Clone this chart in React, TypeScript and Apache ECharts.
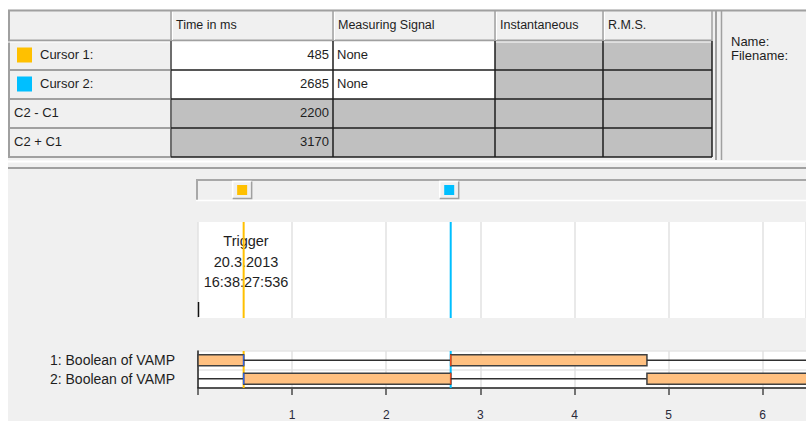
import React, { useEffect, useRef } from 'react';
import * as echarts from 'echarts';

// ---------- data ----------
const headerLabels = ['', 'Time in ms', 'Measuring Signal', 'Instantaneous', 'R.M.S.'];
const rowLabels = ['Cursor 1:', 'Cursor 2:', 'C2 - C1', 'C2 + C1'];
const timeValues = [485, 2685, 2200, 3170];
const measuringSignals = ['None', 'None', '', ''];
const infoLabels = ['Name:', 'Filename:'];
const cursorTimes = [485, 2685];
const cursorColors = ['#FFC000', '#00BFFF'];
const edgeColors = ['#2F62E8', '#E8481C'];
const triggerLines = ['Trigger', '20.3.2013', '16:38:27:536'];
const signalNames = ['1: Boolean of VAMP', '2: Boolean of VAMP'];
// [start ms, end ms, state]
const signal1Segments = [[0, 485, 1], [485, 2685, 0], [2685, 4770, 1], [4770, 6500, 0]];
const signal2Segments = [[0, 485, 0], [485, 2685, 1], [2685, 4770, 0], [4770, 6500, 1]];
const axisTickSeconds = [0, 1, 2, 3, 4, 5, 6];
const timeMin = 0;
const timeMax = 6460;

const FONT = '"Liberation Sans", Arial, sans-serif';
const TXT = '#1E1E1E';

function buildTable(): any[] {
  const colX = [8, 171, 333, 495, 603, 712];
  const rowY = [10, 41, 70, 99, 128, 157];
  const els: any[] = [];
  for (let r = 0; r < 5; r++) {
    for (let c = 0; c < 5; c++) {
      let fill = '#C0C0C0';
      if (r === 0 || c === 0) fill = '#F0F0F0';
      else if ((c === 1 || c === 2) && (r === 1 || r === 2)) fill = '#FFFFFF';
      els.push({
        type: 'rect', z: 1,
        shape: { x: colX[c], y: rowY[r], width: colX[c + 1] - colX[c], height: rowY[r + 1] - rowY[r] },
        style: { fill },
      });
    }
  }
  const line = (x1: number, y1: number, x2: number, y2: number, stroke: string, w: number) =>
    els.push({ type: 'line', z: 2, shape: { x1, y1, x2, y2 }, style: { stroke, lineWidth: w } });
  const G = '#A0A0A0';
  const B = '#1E1E1E';
  line(8, 10.5, 806, 10.5, G, 2);
  line(9, 10, 9, 157, G, 2);
  line(8, 40.5, 712, 40.5, G, 2);
  line(8, 42, 712, 42, '#FFFFFF', 1);
  for (let c = 1; c < 5; c++) {
    line(colX[c], 10, colX[c], 41, G, 1.5);
    line(colX[c] + 1.5, 12, colX[c] + 1.5, 40, '#FFFFFF', 1);
  }
  line(712, 10, 712, 41, G, 1.5);
  for (let r = 2; r < 6; r++) line(8, rowY[r], 171, rowY[r], G, 2);
  line(171, 41, 171, 157, '#6E6E6E', 2);
  for (let r = 2; r < 6; r++) line(171, rowY[r], 712, rowY[r], B, 1.5);
  for (let c = 2; c < 6; c++) line(colX[c], 41, colX[c], 157, B, 1.5);
  line(716, 10, 716, 160, G, 2);
  line(721.5, 10, 721.5, 160, G, 1.5);
  line(8, 161.5, 806, 161.5, '#FFFFFF', 2);
  line(8, 168, 806, 168, G, 2);

  const text = (x: number, y: number, t: string, align: string = 'left', size = 12.5) =>
    els.push({
      type: 'text', z: 3, x, y,
      style: { text: t, fill: TXT, font: `${size}px ${FONT}`, textAlign: align, textVerticalAlign: 'middle' },
    });
  for (let c = 1; c < 5; c++) text(colX[c] + 5, 25, headerLabels[c]);
  for (let i = 0; i < rowLabels.length; i++) {
    const cy = (rowY[i + 1] + rowY[i + 2]) / 2 - 1.5;
    if (i < cursorColors.length) {
      els.push({
        type: 'rect', z: 3,
        shape: { x: 17, y: rowY[i + 1] + 6.5, width: 15, height: 15 },
        style: { fill: cursorColors[i] },
      });
      text(40, cy, rowLabels[i], 'left', 13);
    } else {
      text(14, cy, rowLabels[i], 'left', 13);
    }
    text(colX[2] - 4, cy, String(timeValues[i]), 'right', 13);
    if (measuringSignals[i]) text(colX[2] + 4, cy, measuringSignals[i], 'left', 13);
  }
  infoLabels.forEach((t, i) => text(731, 41 + i * 14, t, 'left', 13));
  return els;
}

function buildOther(): any[] {
  const els: any[] = [];
  els.push({ type: 'rect', z: 1, shape: { x: 0, y: 0, width: 806, height: 9.5 }, style: { fill: '#FFFFFF' } });
  els.push({ type: 'rect', z: 1, shape: { x: 0, y: 0, width: 8, height: 421 }, style: { fill: '#FFFFFF' } });
  els.push({ type: 'line', z: 2, shape: { x1: 197, y1: 180, x2: 806, y2: 180 }, style: { stroke: '#A8A8A8', lineWidth: 2 } });
  els.push({ type: 'line', z: 2, shape: { x1: 197, y1: 179, x2: 197, y2: 200 }, style: { stroke: '#A8A8A8', lineWidth: 2 } });
  els.push({ type: 'line', z: 2, shape: { x1: 196, y1: 200.5, x2: 806, y2: 200.5 }, style: { stroke: '#FFFFFF', lineWidth: 1.5 } });
  triggerLines.forEach((t, i) => {
    els.push({
      type: 'text', z: 3, x: 246, y: 241 + i * 20.5,
      style: { text: t, fill: TXT, font: `14.5px ${FONT}`, textAlign: 'center', textVerticalAlign: 'middle' },
    });
  });
  els.push({ type: 'line', z: 3, shape: { x1: 198.5, y1: 302, x2: 198.5, y2: 317 }, style: { stroke: '#111', lineWidth: 1.5 } });
  return els;
}

const tickValues = axisTickSeconds.map((s) => s * 1000);

function xAxisBase(gridIndex: number, visible: boolean): any {
  return {
    type: 'value', gridIndex, min: timeMin, max: timeMax, interval: 1000,
    axisLine: visible ? { show: true, onZero: false, lineStyle: { color: '#222', width: 1.5 } } : { show: false },
    axisTick: visible
      ? { show: true, length: 7, customValues: tickValues, lineStyle: { color: '#4A4A4A', width: 1.5 } }
      : { show: false },
    axisLabel: visible
      ? {
          show: true, margin: 21, fontSize: 12, color: '#2A2A3A', fontFamily: FONT,
          customValues: tickValues.filter((v) => v > 0),
          formatter: (v: number) => String(v / 1000),
        }
      : { show: false },
    splitLine: { show: gridIndex !== 2, lineStyle: { color: '#E2E2E2', width: 1.5 } },
  };
}

export default function App() {
  const ref = useRef<HTMLDivElement>(null);
  useEffect(() => {
    if (!ref.current) return;
    const chart = echarts.init(ref.current, undefined, { renderer: 'svg' });

    const signalData: number[][] = [];
    signal1Segments.forEach((s) => signalData.push([s[0], s[1], s[2], 0]));
    signal2Segments.forEach((s) => signalData.push([s[0], s[1], s[2], 1]));
    const cursorData = cursorTimes.map((t, i) => [t, i]);

    const cursorLineRender = (params: any, api: any) => {
      const x = api.coord([api.value(0), 0])[0];
      const cs = params.coordSys;
      return {
        type: 'line',
        shape: { x1: x, y1: cs.y, x2: x, y2: cs.y + cs.height },
        style: { stroke: cursorColors[api.value(1)], lineWidth: 2 },
      };
    };

    const option: any = {
      animation: false,
      backgroundColor: '#F0F0F0',
      grid: [
        { left: 198, top: 222, width: 608, height: 96, show: true, backgroundColor: '#FFFFFF', borderWidth: 0 },
        { left: 198, top: 351, width: 608, height: 42, show: true, backgroundColor: '#FFFFFF', borderWidth: 0 },
        { left: 198, top: 181, width: 608, height: 18, show: false },
      ],
      xAxis: [xAxisBase(0, false), xAxisBase(1, true), xAxisBase(2, false)],
      yAxis: [
        { type: 'value', gridIndex: 0, min: 0, max: 1, show: false },
        {
          type: 'category', gridIndex: 1, data: signalNames, inverse: true,
          axisLine: { show: true, lineStyle: { color: '#222', width: 1.5 } },
          axisTick: { show: false },
          axisLabel: { margin: 23, fontSize: 14, color: TXT, fontFamily: FONT },
          splitLine: { show: true, lineStyle: { color: '#E6E6E6', width: 1.5 } },
        },
        { type: 'value', gridIndex: 2, min: 0, max: 1, show: false },
      ],
      graphic: { elements: [...buildOther(), ...buildTable()] },
      series: [
        {
          type: 'custom', name: 'cursors-top', xAxisIndex: 0, yAxisIndex: 0, z: 5,
          encode: { x: 0, y: 1 }, data: cursorData, renderItem: cursorLineRender,
        },
        {
          type: 'custom', name: 'cursors-bottom', xAxisIndex: 1, yAxisIndex: 1, z: 1,
          encode: { x: 0, y: 1 }, data: cursorData, renderItem: cursorLineRender,
        },
        {
          type: 'custom', name: 'signals', xAxisIndex: 1, yAxisIndex: 1, z: 3,
          encode: { x: [0, 1], y: 3 }, data: signalData,
          renderItem: (params: any, api: any) => {
            const s = api.value(0);
            const e = api.value(1);
            const st = api.value(2);
            const row = api.value(3);
            const p0 = api.coord([s, row]);
            const p1 = api.coord([e, row]);
            const h = 11;
            if (st === 1) {
              const children: any[] = [
                {
                  type: 'rect',
                  shape: { x: p0[0], y: p0[1] - h / 2, width: p1[0] - p0[0], height: h },
                  style: { fill: '#FFC080', stroke: '#404040', lineWidth: 1.5 },
                },
              ];
              [s, e].forEach((t, k) => {
                const ci = cursorTimes.indexOf(t);
                if (ci >= 0) {
                  const x = k === 0 ? p0[0] : p1[0];
                  children.push({
                    type: 'line',
                    shape: { x1: x, y1: p0[1] - h / 2, x2: x, y2: p0[1] + h / 2 },
                    style: { stroke: edgeColors[ci], lineWidth: 1.5 },
                  });
                }
              });
              return { type: 'group', children };
            }
            return {
              type: 'line',
              shape: { x1: p0[0], y1: p0[1], x2: p1[0], y2: p1[1] },
              style: { stroke: '#303030', lineWidth: 1.5 },
            };
          },
        },
        {
          type: 'custom', name: 'cursor-markers', xAxisIndex: 2, yAxisIndex: 2, z: 5,
          encode: { x: 0, y: 1 }, data: cursorData,
          renderItem: (params: any, api: any) => {
            const cx = api.coord([api.value(0), 0])[0] - 1.5;
            const top = params.coordSys.y + 0.5;
            const w = 19;
            const h = 17;
            const l = cx - w / 2;
            return {
              type: 'group',
              children: [
                { type: 'rect', shape: { x: l, y: top, width: w, height: h }, style: { fill: '#F0F0F0' } },
                { type: 'polyline', shape: { points: [[l, top + h], [l, top], [l + w, top]] }, style: { stroke: '#FFFFFF', lineWidth: 1.5, fill: null } },
                { type: 'polyline', shape: { points: [[l + w, top], [l + w, top + h], [l, top + h]] }, style: { stroke: '#A0A0A0', lineWidth: 1.5, fill: null } },
                { type: 'rect', shape: { x: cx - 5, y: top + 3.5, width: 10, height: 10 }, style: { fill: cursorColors[api.value(1)] } },
              ],
            };
          },
        },
      ],
    };
    chart.setOption(option);
    return () => chart.dispose();
  }, []);
  return <div ref={ref} style={{ position: 'absolute', left: 0, top: 0, width: 806, height: 421 }} />;
}
